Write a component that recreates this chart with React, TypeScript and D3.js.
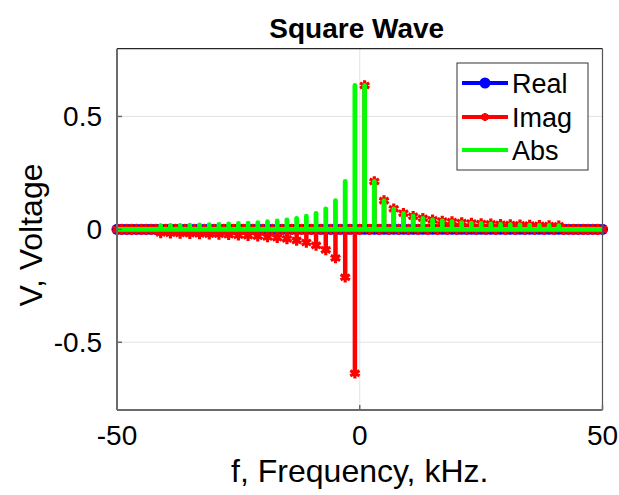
import React from 'react';
import * as d3 from 'd3';

// ---- data ----
const sampleFreqs: number[] = d3.range(-50, 51, 1); // kHz sampling grid
const harmonicFreqs: number[] = [1, 3, 5, 7, 9, 11, 13, 15, 17, 19, 21, 23, 25, 27, 29, 31, 33, 35, 37, 39, 41];
const harmonicImag: number[] = [0.637, 0.212, 0.127, 0.091, 0.071, 0.058, 0.049, 0.042, 0.037, 0.034, 0.030, 0.028, 0.026, 0.024, 0.022, 0.021, 0.020, 0.019, 0.018, 0.017, 0.016];
const xTickValues: number[] = [-50, 0, 50];
const xTickLabels: string[] = ['-50', '0', '50'];
const yTickValues: number[] = [-0.5, 0, 0.5];
const yTickLabels: string[] = ['-0.5', '0', '0.5'];
const seriesNames: string[] = ['Real', 'Imag', 'Abs'];

const W = 619, H = 495;
const L = 117, R = 602.5, T = 48.7, B = 410;
const FONT = '"Liberation Sans", Arial, Helvetica, sans-serif';

type Pt = { f: number; v: number };

function buildSeries() {
  const imagMap = new Map<number, number>();
  harmonicFreqs.forEach((n, i) => {
    imagMap.set(n, harmonicImag[i]);
    imagMap.set(-n, -harmonicImag[i]);
  });
  const real: Pt[] = sampleFreqs.map(f => ({ f, v: 0 }));
  const imag: Pt[] = sampleFreqs.map(f => ({ f, v: imagMap.get(f) ?? 0 }));
  const abs: Pt[] = imag.map(p => ({ f: p.f, v: Math.abs(p.v) }));
  return { real, imag, abs };
}

// expand samples into stem-like polyline (vertical spikes at nonzero samples)
function stemPoints(pts: Pt[]): Pt[] {
  const out: Pt[] = [];
  pts.forEach(p => {
    if (p.v !== 0) {
      out.push({ f: p.f, v: 0 }, { f: p.f, v: p.v }, { f: p.f, v: 0 });
    } else out.push(p);
  });
  return out;
}

export default function App() {
  const x = d3.scaleLinear().domain([-50, 50]).range([L, R]);
  const y = d3.scaleLinear().domain([-0.8, 0.8]).range([B, T]);
  const { real, imag, abs } = buildSeries();
  const line = d3.line<Pt>().x(p => x(p.f)).y(p => y(p.v));
  const ast = d3.symbol().type(d3.symbolAsterisk).size(80)() as string;
  const astLegend = d3.symbol().type(d3.symbolAsterisk).size(45)() as string;

  const colors = ['#0000ff', '#ff0000', '#00ff00'];
  const legendY = [83, 117, 150];

  return (
    <svg width={W} height={H} style={{ position: 'absolute', left: 0, top: 0, background: '#fff' }}>
      <rect x={0} y={0} width={W} height={H} fill="#fff" />
      <rect x={L} y={T} width={R - L} height={B - T} fill="#fff" />
      {/* grid */}
      {xTickValues.map(t => (
        <line key={'gx' + t} x1={x(t)} x2={x(t)} y1={T} y2={B} stroke="#e3e3e3" strokeWidth={1} />
      ))}
      {yTickValues.map(t => (
        <line key={'gy' + t} x1={L} x2={R} y1={y(t)} y2={y(t)} stroke="#e3e3e3" strokeWidth={1} />
      ))}
      {/* Real */}
      <path d={line(real) as string} fill="none" stroke={colors[0]} strokeWidth={4} />
      {real.map((p, i) => (
        <circle key={'rc' + i} cx={x(p.f)} cy={y(p.v)} r={5.5} fill={colors[0]} />
      ))}
      {/* Imag */}
      <path d={line(stemPoints(imag)) as string} fill="none" stroke={colors[1]} strokeWidth={4.5} strokeLinejoin="round" />
      {imag.map((p, i) => (
        <path key={'im' + i} d={ast} transform={`translate(${x(p.f)},${y(p.v)})`} fill="none" stroke={colors[1]} strokeWidth={3.2} />
      ))}
      {/* Abs */}
      <path d={line(stemPoints(abs)) as string} fill="none" stroke={colors[2]} strokeWidth={4.8} strokeLinejoin="round" />

      {/* axes box */}
      <line x1={L} x2={R} y1={T} y2={T} stroke="#262626" strokeWidth={1.2} />
      <line x1={R} x2={R} y1={T} y2={B} stroke="#555" strokeWidth={1.2} />
      <line x1={L} x2={L} y1={T} y2={B} stroke="#6b6b6b" strokeWidth={2} />
      <line x1={L} x2={R} y1={B} y2={B} stroke="#6b6b6b" strokeWidth={2} />
      {xTickValues.map(t => (
        <line key={'tx' + t} x1={x(t)} x2={x(t)} y1={B} y2={B - 5} stroke="#6b6b6b" strokeWidth={1.5} />
      ))}
      {yTickValues.map(t => (
        <line key={'ty' + t} x1={L} x2={L + 5} y1={y(t)} y2={y(t)} stroke="#6b6b6b" strokeWidth={1.5} />
      ))}
      {/* tick labels */}
      {xTickValues.map((t, i) => (
        <text key={'lx' + t} x={x(t)} y={445} textAnchor="middle" fontFamily={FONT} fontSize={28} fill="#000">{xTickLabels[i]}</text>
      ))}
      {yTickValues.map((t, i) => (
        <text key={'ly' + t} x={102} y={y(t) + 10} textAnchor="end" fontFamily={FONT} fontSize={28} fill="#000">{yTickLabels[i]}</text>
      ))}
      {/* labels */}
      <text x={(L + R) / 2 - 3} y={38} textAnchor="middle" fontFamily={FONT} fontSize={28} fontWeight="bold" fill="#000">Square Wave</text>
      <text x={(L + R) / 2} y={482} textAnchor="middle" fontFamily={FONT} fontSize={32} fill="#000">f, Frequency, kHz.</text>
      <text transform={`translate(42,235) rotate(-90)`} textAnchor="middle" fontFamily={FONT} fontSize={32} fill="#000">V, Voltage</text>

      {/* legend */}
      <rect x={457} y={63} width={131} height={107} fill="#fff" stroke="#333" strokeWidth={1} />
      {seriesNames.map((name, i) => (
        <g key={name}>
          <line x1={462} x2={508} y1={legendY[i]} y2={legendY[i]} stroke={colors[i]} strokeWidth={4} />
          {i === 0 && <circle cx={485} cy={legendY[i]} r={5.5} fill={colors[0]} />}
          {i === 1 && <path d={astLegend} transform={`translate(485,${legendY[i]})`} fill="none" stroke={colors[1]} strokeWidth={3} />}
          <text x={512} y={legendY[i] + 9.5} fontFamily={FONT} fontSize={27} fill="#000">{name}</text>
        </g>
      ))}
    </svg>
  );
}
